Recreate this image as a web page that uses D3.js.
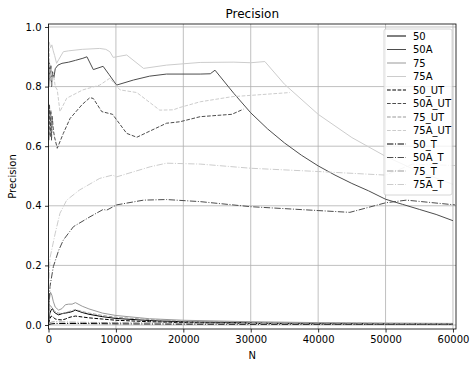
<!DOCTYPE html>
<html>
<head>
<meta charset="utf-8">
<script src="https://cdn.jsdelivr.net/npm/d3@7"></script>
<style>
  body { margin: 0; background: #fff; }
  svg { display: block; font-family: "DejaVu Sans", sans-serif; }
</style>
</head>
<body>
<svg id="chart" width="471" height="368"></svg>
<script>
// ---- data ----
const seriesNames = ["50","50A","75","75A","50_UT","50A_UT","75_UT","75A_UT","50_T","50A_T","75_T","75A_T"];
const xTicks = [0,10000,20000,30000,40000,50000,60000];
const yTicks = [0.0,0.2,0.4,0.6,0.8,1.0];

const n50 = [20,200,400,600,800,1000,1500,2000,2500,3000,3500,4000,5000,6000,8000,10000,15000,20000,30000,40000,50000,60000];
const v50 = [0.01,0.04,0.05,0.055,0.045,0.04,0.034,0.038,0.04,0.042,0.045,0.05,0.042,0.036,0.028,0.022,0.015,0.011,0.0075,0.0056,0.0045,0.0038];
const v50_UT = [0.005,0.02,0.03,0.028,0.025,0.02,0.018,0.017,0.02,0.025,0.028,0.03,0.027,0.024,0.02,0.016,0.011,0.008,0.0055,0.004,0.0033,0.0028];

const n75 = [20,150,300,500,700,1000,1500,2000,2500,3000,3500,4000,5000,6000,8000,10000,15000,20000,30000,40000,50000,60000];
const v75 = [0.02,0.09,0.11,0.1,0.08,0.06,0.05,0.055,0.068,0.07,0.07,0.075,0.063,0.054,0.04,0.032,0.021,0.016,0.011,0.008,0.0065,0.0054];
const v75_UT = [0.01,0.05,0.065,0.058,0.05,0.045,0.04,0.038,0.042,0.045,0.048,0.052,0.045,0.04,0.032,0.026,0.018,0.013,0.009,0.0068,0.0055,0.0046];

const n50A = [50,150,250,350,450,600,800,1000,1400,2000,3000,4000,5100,5700,6650,8100,9000,10100,12600,15000,17500,22500,24000,24700,27500,30000,32500,35000,37500,40000,42500,45000,47500,50000,52500,55000,57500,60000];
const v50A = [0.80,0.88,0.82,0.87,0.80,0.85,0.83,0.86,0.872,0.878,0.882,0.888,0.895,0.90,0.857,0.868,0.84,0.805,0.822,0.835,0.842,0.842,0.843,0.855,0.777,0.712,0.658,0.611,0.570,0.534,0.503,0.475,0.450,0.422,0.405,0.388,0.371,0.350];

const n75A = [100,300,500,700,900,1200,1500,2200,3000,5000,7600,8500,9100,9600,11600,14100,17500,22500,27500,30000,32100,35000,40000,45000,50000,55000,60000];
const v75A = [0.95,0.93,0.94,0.92,0.905,0.878,0.89,0.917,0.92,0.925,0.928,0.925,0.917,0.898,0.906,0.861,0.872,0.881,0.882,0.88,0.884,0.808,0.707,0.629,0.566,0.514,0.472];

const n50A_UT = [50,150,250,350,450,550,720,900,1300,2200,3200,5000,6150,6650,7900,9500,11600,13100,17500,19500,22500,27200,28900];
const v50A_UT = [0.62,0.74,0.63,0.72,0.62,0.70,0.654,0.63,0.593,0.643,0.693,0.74,0.763,0.76,0.716,0.707,0.643,0.63,0.677,0.682,0.699,0.707,0.724];

const n75A_UT = [100,250,400,550,720,1000,1300,1700,2700,5100,7600,9100,10600,13100,16500,18500,19500,22500,27200,35800];
const v75A_UT = [0.93,0.82,0.86,0.80,0.845,0.80,0.789,0.716,0.761,0.789,0.805,0.828,0.789,0.78,0.721,0.722,0.73,0.749,0.766,0.78];

const n50A_T = [20,220,720,1500,2200,3700,6150,8130,8600,10100,14100,17500,22500,30000,40000,44700,50000,53100,60300];
const v50A_T = [0.05,0.129,0.196,0.25,0.285,0.33,0.363,0.388,0.385,0.403,0.419,0.421,0.414,0.397,0.384,0.378,0.41,0.419,0.403];

const n75A_T = [20,220,1000,1700,2700,4600,7600,9500,10100,12600,15100,17500,22500,30000,40000,50000,54000,60300];
const v75A_T = [0.12,0.225,0.308,0.375,0.419,0.453,0.492,0.503,0.497,0.514,0.531,0.543,0.54,0.526,0.515,0.503,0.54,0.535];

const nT = [20,500,1000,2000,5000,10000,20000,40000,60000];
const v50_T = [0.002,0.004,0.005,0.005,0.005,0.004,0.003,0.002,0.0015];
const v75_T = [0.005,0.01,0.011,0.01,0.009,0.008,0.006,0.004,0.003];

const seriesN = [n50,n50A,n75,n75A,n50,n50A_UT,n75,n75A_UT,nT,n50A_T,nT,n75A_T];
const seriesV = [v50,v50A,v75,v75A,v50_UT,v50A_UT,v75_UT,v75A_UT,v50_T,v50A_T,v75_T,v75A_T];

// ---- styles ----
const colors = ["#000000","#4d4d4d","#999999","#cccccc"];
const dashes = [null, "3.7,1.6", "6.4,1.6,1,1.6"];

const svg = d3.select("#chart");
const L = 48.5, R = 456, T = 24, B = 329;
const x = d3.scaleLinear().domain([0, 60450]).range([L, R]);
const y = d3.scaleLinear().domain([-0.0134, 1.01]).range([B, T]);

// grid
const g = svg.append("g");
g.selectAll(".gx").data(xTicks).enter().append("line")
  .attr("x1", d => x(d)).attr("x2", d => x(d)).attr("y1", T).attr("y2", B)
  .attr("stroke", "#b0b0b0").attr("stroke-width", 0.8);
g.selectAll(".gy").data(yTicks).enter().append("line")
  .attr("y1", d => y(d)).attr("y2", d => y(d)).attr("x1", L).attr("x2", R)
  .attr("stroke", "#b0b0b0").attr("stroke-width", 0.8);

// lines
const clip = svg.append("clipPath").attr("id", "clip").append("rect")
  .attr("x", L).attr("y", T).attr("width", R - L).attr("height", B - T);
const lineGen = d3.line().x(d => x(d[0])).y(d => y(d[1]));
const lg = svg.append("g").attr("clip-path", "url(#clip)");
seriesNames.forEach((name, i) => {
  const pts = seriesN[i].map((n, k) => [n, seriesV[i][k]]);
  lg.append("path").datum(pts)
    .attr("d", lineGen)
    .attr("fill", "none")
    .attr("stroke", colors[i % 4])
    .attr("stroke-width", 1)
    .attr("stroke-dasharray", dashes[Math.floor(i / 4)]);
});

// axes
const xAxis = d3.axisBottom(x).tickValues(xTicks).tickFormat(d3.format("d")).tickSize(3.5).tickPadding(3.5);
const yAxis = d3.axisLeft(y).tickValues(yTicks).tickFormat(d3.format(".1f")).tickSize(3.5).tickPadding(3.5);
const xa = svg.append("g").attr("transform", `translate(0,${B})`).call(xAxis);
const ya = svg.append("g").attr("transform", `translate(${L},0)`).call(yAxis);
[xa, ya].forEach(a => {
  a.select(".domain").remove();
  a.selectAll("line").attr("stroke", "#000").attr("stroke-width", 0.8);
  a.selectAll("text").attr("font-size", 10).attr("fill", "#000").attr("font-family", "DejaVu Sans, sans-serif");
});

// frame
svg.append("rect").attr("x", L).attr("y", T).attr("width", R - L).attr("height", B - T)
  .attr("fill", "none").attr("stroke", "#000").attr("stroke-width", 0.8);

// labels
svg.append("text").attr("x", (L + R) / 2).attr("y", 18).attr("text-anchor", "middle")
  .attr("font-size", 12).text("Precision");
svg.append("text").attr("x", (L + R) / 2).attr("y", 359).attr("text-anchor", "middle")
  .attr("font-size", 10).text("N");
svg.append("text").attr("transform", `translate(16,${(T + B) / 2}) rotate(-90)`)
  .attr("text-anchor", "middle").attr("font-size", 10).text("Precision");

// legend
const leg = svg.append("g");
leg.append("rect").attr("x", 384).attr("y", 29).attr("width", 68).attr("height", 166)
  .attr("rx", 2).attr("fill", "#fff").attr("fill-opacity", 0.8)
  .attr("stroke", "#cccccc").attr("stroke-width", 0.8);
seriesNames.forEach((name, i) => {
  const cy = 36 + i * 13.5;
  leg.append("line").attr("x1", 387).attr("x2", 406).attr("y1", cy).attr("y2", cy)
    .attr("stroke", colors[i % 4]).attr("stroke-width", 1)
    .attr("stroke-dasharray", dashes[Math.floor(i / 4)]);
  leg.append("text").attr("x", 413).attr("y", cy + 3.5).attr("font-size", 10).text(name);
});
</script>
</body>
</html>
